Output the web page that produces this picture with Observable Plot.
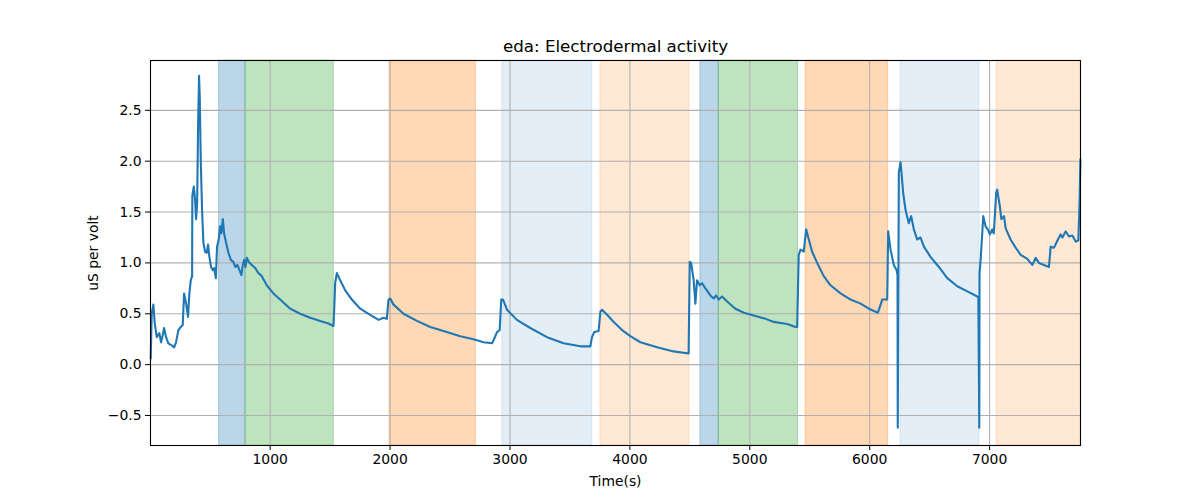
<!DOCTYPE html>
<html>
<head>
<meta charset="utf-8">
<script src="https://cdn.jsdelivr.net/npm/d3@7"></script>
<script src="https://cdn.jsdelivr.net/npm/@observablehq/plot@0.6"></script>
<style>
  body { margin: 0; background: white; }
  #chart svg { display: block; }
</style>
</head>
<body>
<div id="chart"></div>
<script>
const titleText = "eda: Electrodermal activity";
const xLabel = "Time(s)";
const yLabel = "uS per volt";
const xTicks = [1000, 2000, 3000, 4000, 5000, 6000, 7000];
const yTicks = [-0.5, 0.0, 0.5, 1.0, 1.5, 2.0, 2.5];

// shaded phases
const spanStart = [574, 794, 1995, 2936, 3754, 4588, 4741, 5465, 6257, 7058];
const spanEnd   = [794, 1531, 2716, 3687, 4497, 4741, 5403, 6154, 6916, 7760];
const spanKind  = ["blue", "green", "orange", "lightblue", "lightorange", "blue", "green", "orange", "lightblue", "lightorange"];

// EDA signal
const edaTime = [4,12,26,37,54,76,90,104,115,132,151,179,199,215,235,254,271,282,299,315,326,338,349,351,363,374,382,391,399,407,413,421,432,443,457,471,482,493,507,521,532,547,557,571,582,593,605,616,632,652,672,693,710,727,744,760,772,783,794,805,822,847,875,902,930,972,1027,1083,1167,1250,1334,1417,1486,1528,1534,1542,1556,1584,1626,1681,1751,1834,1904,1945,1973,1987,2001,2029,2112,2224,2335,2446,2585,2696,2780,2850,2863,2892,2914,2927,2942,2975,3058,3169,3309,3447,3587,3670,3684,3703,3739,3754,3768,3810,3865,3935,4004,4087,4227,4365,4490,4499,4510,4532,4546,4560,4582,4602,4630,4671,4699,4719,4741,4769,4811,4880,4950,5040,5133,5200,5312,5381,5395,5408,5423,5450,5470,5492,5520,5562,5617,5673,5757,5840,5924,5993,6068,6085,6105,6146,6154,6174,6201,6224,6232,6234,6243,6257,6265,6279,6299,6326,6346,6368,6396,6424,6452,6507,6577,6647,6730,6814,6897,6906,6914,6916,6925,6947,6966,6985,7002,7022,7035,7055,7063,7085,7098,7120,7134,7175,7217,7259,7314,7356,7384,7412,7453,7495,7509,7537,7570,7592,7607,7634,7662,7690,7718,7740,7751,7757];
const edaValue = [0.06,0.50,0.59,0.41,0.27,0.31,0.22,0.29,0.36,0.27,0.21,0.19,0.17,0.22,0.34,0.37,0.39,0.70,0.60,0.47,0.70,0.83,0.87,1.66,1.75,1.62,1.43,1.59,2.35,2.84,2.61,2.02,1.52,1.20,1.11,1.10,1.18,1.06,0.96,0.93,0.95,0.85,1.16,1.23,1.36,1.29,1.43,1.29,1.20,1.10,1.03,1.01,0.96,0.98,0.93,0.88,0.98,1.03,0.96,1.05,1.01,0.98,0.95,0.90,0.87,0.78,0.70,0.64,0.55,0.50,0.46,0.43,0.405,0.38,0.54,0.80,0.90,0.83,0.73,0.64,0.55,0.49,0.44,0.46,0.45,0.64,0.65,0.59,0.50,0.43,0.37,0.33,0.28,0.25,0.22,0.21,0.24,0.32,0.34,0.64,0.64,0.54,0.44,0.36,0.27,0.21,0.18,0.18,0.27,0.32,0.33,0.52,0.54,0.49,0.42,0.34,0.28,0.22,0.17,0.13,0.11,1.01,1.00,0.83,0.60,0.83,0.78,0.80,0.75,0.68,0.65,0.68,0.64,0.67,0.62,0.55,0.51,0.48,0.45,0.42,0.40,0.37,0.37,1.08,1.13,1.11,1.33,1.23,1.11,1.00,0.87,0.78,0.70,0.64,0.60,0.55,0.51,0.57,0.64,0.64,1.31,1.13,0.98,0.93,0.88,-0.62,1.89,1.99,1.89,1.69,1.52,1.39,1.46,1.33,1.23,1.25,1.16,1.06,0.96,0.85,0.77,0.72,0.67,0.66,-0.62,0.90,1.03,1.46,1.36,1.33,1.28,1.33,1.29,1.69,1.72,1.56,1.43,1.46,1.34,1.23,1.15,1.08,1.04,0.98,1.05,1.00,0.98,0.96,1.16,1.15,1.23,1.28,1.25,1.31,1.26,1.27,1.21,1.22,1.62,2.02];

const kindColor = {
  blue: "#1f77b4", green: "#2ca02c", orange: "#ff7f0e",
  lightblue: "#1f77b4", lightorange: "#ff7f0e"
};
const kindAlpha = { blue: 0.3, green: 0.3, orange: 0.3, lightblue: 0.12, lightorange: 0.18 };

const spans = spanStart.map((s, i) => ({ x1: s, x2: spanEnd[i], kind: spanKind[i] }));
const eda = edaTime.map((t, i) => ({ t, v: edaValue[i] }));

const chart = Plot.plot({
  width: 1200,
  height: 500,
  marginLeft: 150,
  marginRight: 120,
  marginTop: 60,
  marginBottom: 55,
  style: { fontFamily: "DejaVu Sans", fontSize: "13.9px", color: "black", background: "white" },
  x: { domain: [2, 7758] },
  y: { domain: [-0.795, 2.99] },
  marks: [
    Plot.rect(spans, {
      x1: "x1", x2: "x2",
      fill: d => kindColor[d.kind],
      fillOpacity: d => kindAlpha[d.kind],
      stroke: d => kindColor[d.kind],
      strokeOpacity: d => kindAlpha[d.kind],
      strokeWidth: 1
    }),
    Plot.gridX(xTicks, { stroke: "#b0b0b0", strokeOpacity: 1, strokeWidth: 1.1 }),
    Plot.gridY(yTicks, { stroke: "#b0b0b0", strokeOpacity: 1, strokeWidth: 1.1 }),
    Plot.line(eda, { x: "t", y: "v", stroke: "#1f77b4", strokeWidth: 2.1, strokeLinejoin: "round" }),
    Plot.axisX(xTicks, { tickSize: 5, tickPadding: 4, label: null, fontSize: 13.9, tickFormat: d3.format("d") }),
    Plot.axisY(yTicks, { tickSize: 5, tickPadding: 4, label: null, fontSize: 13.9, tickFormat: d3.format(".1f") }),
    Plot.frame({ stroke: "black", strokeWidth: 1.1 }),
    Plot.text([titleText], { frameAnchor: "top", dy: -14, lineAnchor: "middle", textAnchor: "middle", fontSize: 16.7, text: d => d }),
    Plot.text([xLabel], { frameAnchor: "bottom", dy: 36, lineAnchor: "middle", textAnchor: "middle", fontSize: 13.9, text: d => d }),
    Plot.text([yLabel], { frameAnchor: "left", dx: -57, rotate: -90, lineAnchor: "middle", textAnchor: "middle", fontSize: 13.9, text: d => d })
  ]
});
document.getElementById("chart").appendChild(chart);
</script>
</body>
</html>
